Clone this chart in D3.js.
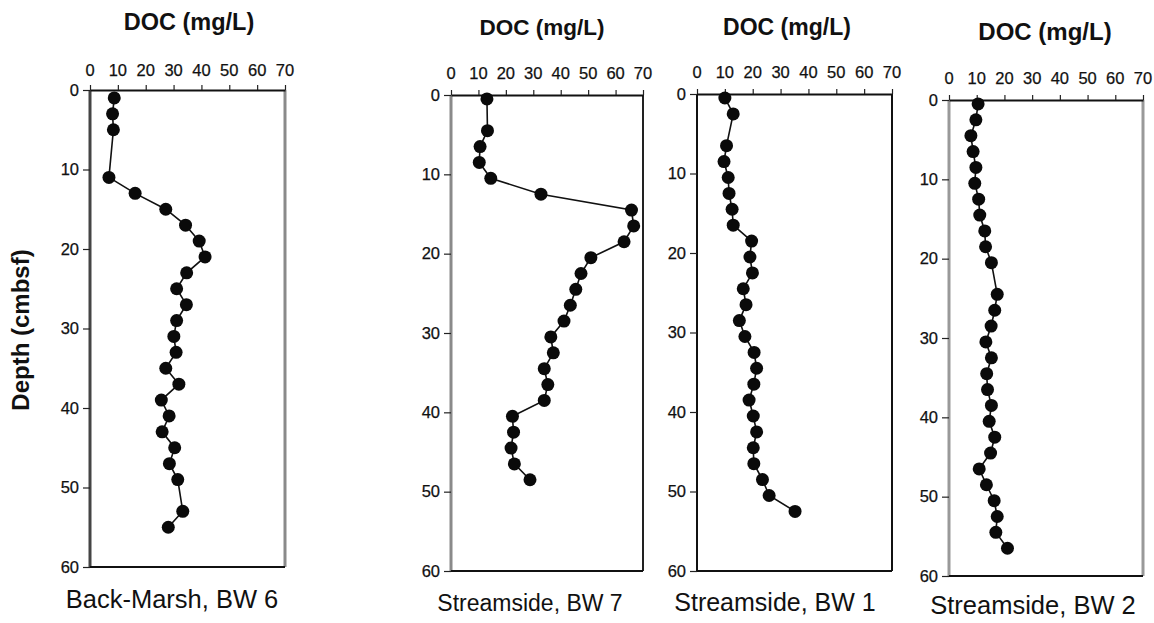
<!DOCTYPE html>
<html><head><meta charset="utf-8">
<script src="https://cdn.jsdelivr.net/npm/d3@7"></script>
<style>body{margin:0;background:#fff}svg{display:block}text{font-family:"Liberation Sans",Arial,sans-serif;fill:#111}</style>
</head><body>
<svg id="c" width="1154" height="623"></svg>
<script>
// ---- data ----
const docTicks = [0,10,20,30,40,50,60,70];
const depthTicks = [0,10,20,30,40,50,60];
const panelNames = ["Back-Marsh, BW 6","Streamside, BW 7","Streamside, BW 1","Streamside, BW 2"];
const xTitle = "DOC (mg/L)";
const yTitle = "Depth (cmbsf)";

const bw6Depth = [1,3,5,11,13,15,17,19,21,23,25,27,29,31,33,35,37,39,41,43,45,47,49,53,55];
const bw6Doc   = [8.7,8.1,8.4,6.8,16.2,27.2,34.3,39.2,41.3,34.7,31.1,34.6,31.1,30.1,30.9,27.2,31.9,25.6,28.4,25.9,30.4,28.5,31.5,33.3,28.1];

const bw7Depth = [0.5,4.5,6.5,8.5,10.5,12.5,14.5,16.5,18.5,20.5,22.5,24.5,26.5,28.5,30.5,32.5,34.5,36.5,38.5,40.5,42.5,44.5,46.5,48.5];
const bw7Doc   = [13.1,13.3,10.6,10.3,14.5,32.8,65.8,66.6,63.1,51,47.4,45.5,43.5,41.2,36.4,37.3,34,35.3,34,22.4,22.8,21.9,23.1,28.8];

const bw1Depth = [0.5,2.5,6.5,8.5,10.5,12.5,14.5,16.5,18.5,20.5,22.5,24.5,26.5,28.5,30.5,32.5,34.5,36.5,38.5,40.5,42.5,44.5,46.5,48.5,50.5,52.5];
const bw1Doc   = [10,13,10.6,9.7,11.2,11.5,12.6,13,19.6,19,19.9,16.6,17.6,15.2,17.2,20.5,21.4,20.4,18.7,20.2,21.4,20.2,20.4,23.5,25.9,35.2];

const bw2Depth = [0.5,2.5,4.5,6.5,8.5,10.5,12.5,14.5,16.5,18.5,20.5,24.5,26.5,28.5,30.5,32.5,34.5,36.5,38.5,40.5,42.5,44.5,46.5,48.5,50.5,52.5,54.5,56.5];
const bw2Doc   = [10.5,9.7,7.9,8.7,9.7,9.3,10.7,11.1,12.9,13.2,15.3,17.4,16.5,15.2,13.3,15.3,13.6,13.9,15.3,14.5,16.5,15,10.9,13.5,16.3,17.4,16.9,21.1];

const series = [[bw6Depth,bw6Doc],[bw7Depth,bw7Doc],[bw1Depth,bw1Doc],[bw2Depth,bw2Doc]];

// ---- layout ----
const layout = [
  {x0:90, x1:285, y0:90, y1:567, titleX:189, titleY:30, titleFs:23.5, tickY:76, nameX:172, nameY:608, nameFs:25.5, left:{c:"#444",w:3}, right:{c:"#8a8a8a",w:3}},
  {x0:451,x1:643, y0:95, y1:571, titleX:542, titleY:35, titleFs:22.5, tickY:79, nameX:530, nameY:611, nameFs:23, left:{c:"#8a8a8a",w:3}, right:{c:"#222",w:2}},
  {x0:697,x1:892, y0:94, y1:571, titleX:787, titleY:35, titleFs:23, tickY:78, nameX:775, nameY:611, nameFs:25, left:{c:"#111",w:2}, right:{c:"#111",w:2}},
  {x0:949,x1:1143,y0:100,y1:576, titleX:1045,titleY:40, titleFs:24, tickY:84, nameX:1033,nameY:614, nameFs:25.5, left:{c:"#999",w:3}, right:{c:"#999",w:3}}
];

const svg = d3.select("#c");

layout.forEach((L,i)=>{
  const x = d3.scaleLinear().domain([0,70]).range([L.x0,L.x1]);
  const y = d3.scaleLinear().domain([0,60]).range([L.y0,L.y1]);
  const g = svg.append("g");

  // frame
  g.append("line").attr("x1",L.x0).attr("x2",L.x0).attr("y1",L.y0).attr("y2",L.y1)
    .attr("stroke",L.left.c).attr("stroke-width",L.left.w);
  g.append("line").attr("x1",L.x1).attr("x2",L.x1).attr("y1",L.y0).attr("y2",L.y1)
    .attr("stroke",L.right.c).attr("stroke-width",L.right.w);

  // top axis
  const ax = g.append("g").attr("transform",`translate(0,${L.y0})`)
    .call(d3.axisTop(x).tickValues(docTicks).tickSize(5).tickSizeOuter(0).tickFormat(""));
  ax.select(".domain").attr("stroke","#111").attr("stroke-width",2);
  ax.selectAll(".tick line").attr("stroke","#222").attr("stroke-width",1.2);
  g.selectAll(".xl").data(docTicks).join("text")
    .attr("x",d=>x(d)).attr("y",L.tickY).attr("text-anchor","middle")
    .attr("font-size",16.5).attr("stroke","#111").attr("stroke-width",0.25).text(d=>d);

  // bottom line
  g.append("line").attr("x1",L.x0).attr("x2",L.x1).attr("y1",L.y1).attr("y2",L.y1)
    .attr("stroke","#111").attr("stroke-width",2);

  // left axis
  const ay = g.append("g").attr("transform",`translate(${L.x0},0)`)
    .call(d3.axisLeft(y).tickValues(depthTicks).tickSize(7).tickSizeOuter(0).tickPadding(4));
  ay.select(".domain").remove();
  ay.selectAll(".tick line").attr("stroke","#222").attr("stroke-width",1.2);
  ay.selectAll(".tick text").attr("font-size",16.5).attr("font-family","Liberation Sans, Arial, sans-serif")
    .attr("fill","#111").attr("stroke","#111").attr("stroke-width",0.25);

  // title
  g.append("text").attr("x",L.titleX).attr("y",L.titleY).attr("text-anchor","middle")
    .attr("font-size",L.titleFs).attr("font-weight","bold").text(xTitle);
  // panel name
  g.append("text").attr("x",L.nameX).attr("y",L.nameY).attr("text-anchor","middle")
    .attr("font-size",L.nameFs).text(panelNames[i]);

  // data
  const [dep,doc] = series[i];
  const pts = dep.map((d,k)=>({depth:d,doc:doc[k]}));
  g.append("path").datum(pts)
    .attr("fill","none").attr("stroke","#111").attr("stroke-width",1.6)
    .attr("d",d3.line().x(d=>x(d.doc)).y(d=>y(d.depth)));
  g.selectAll(".pt").data(pts).join("circle")
    .attr("cx",d=>x(d.doc)).attr("cy",d=>y(d.depth)).attr("r",6.5).attr("fill","#0a0a0a");
});

// y title
svg.append("text").attr("transform","translate(29,330) rotate(-90)")
  .attr("text-anchor","middle").attr("font-size",24).attr("font-weight","bold").text(yTitle);
</script>
</body></html>
